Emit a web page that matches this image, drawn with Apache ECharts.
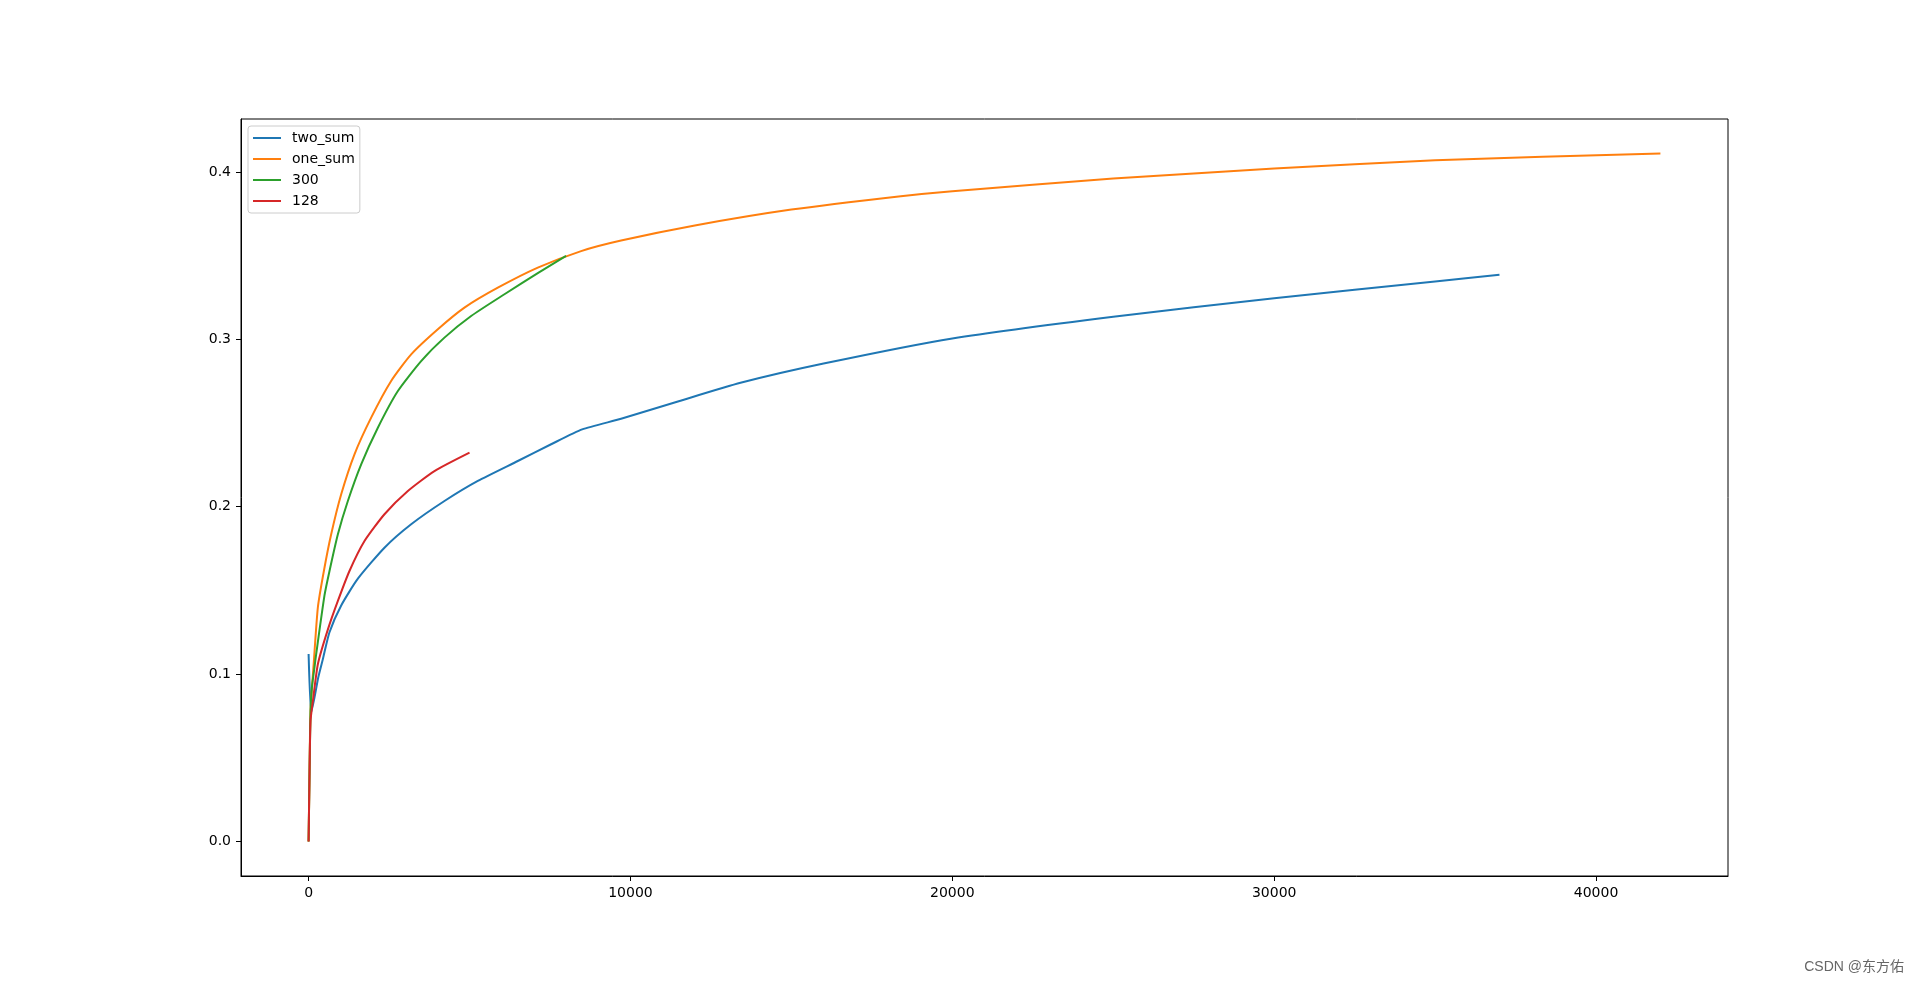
<!DOCTYPE html>
<html>
<head>
<meta charset="utf-8">
<script src="https://cdn.jsdelivr.net/npm/echarts@6/dist/echarts.min.js"></script>
<style>
html,body{margin:0;padding:0;background:#fff;}
#chart{width:1920px;height:983px;}
</style>
</head>
<body>
<div id="chart"></div>
<script>
// ---- data ----
const seriesNames = ['two_sum', 'one_sum', '300', '128'];

const twoSumX = [0, 80, 183, 300, 444, 649, 1013, 1531, 2357, 3187, 4221, 5258, 6500, 7535, 8500, 9709, 11500, 13420, 16000, 20000, 25000, 30000, 35000, 37000];
const twoSumY = [0.112, 0.077, 0.086, 0.098, 0.109, 0.125, 0.141, 0.157, 0.1755, 0.1895, 0.2034, 0.2154, 0.2273, 0.2373, 0.2462, 0.2525, 0.263, 0.274, 0.2855, 0.3005, 0.3135, 0.3245, 0.3345, 0.3385];

const oneSumX = [0, 25, 60, 165, 289, 475, 702, 1013, 1426, 1944, 2565, 3187, 4016, 4842, 5879, 7121, 8467, 9709, 12000, 15000, 18400, 20000, 25000, 30000, 35000, 42000];
const oneSumY = [0, 0.035, 0.078, 0.108, 0.140, 0.1616, 0.1835, 0.2074, 0.2313, 0.2532, 0.2751, 0.2910, 0.3060, 0.3189, 0.3308, 0.3428, 0.3527, 0.359, 0.368, 0.3775, 0.3855, 0.3885, 0.396, 0.402, 0.407, 0.411];

const s300X = [0, 25, 60, 102, 183, 236, 494, 650, 910, 1220, 1634, 2152, 2774, 3497, 4221, 5050, 6085, 7121, 8000];
const s300Y = [0, 0.035, 0.078, 0.092, 0.104, 0.112, 0.147, 0.1616, 0.1835, 0.2034, 0.2253, 0.2472, 0.2691, 0.2870, 0.3010, 0.3139, 0.3269, 0.3395, 0.3498];

const s128X = [0, 25, 60, 134, 289, 600, 910, 1270, 1737, 2357, 3084, 3910, 5000];
const s128Y = [0, 0.035, 0.072, 0.084, 0.106, 0.1267, 0.1437, 0.1616, 0.1795, 0.1955, 0.2094, 0.2213, 0.2323];

const xTicks = [0, 10000, 20000, 30000, 40000];
const yTicks = [0, 0.1, 0.2, 0.3, 0.4];

const colors = ['#1f77b4', '#ff7f0e', '#2ca02c', '#d62728'];

function zip(xs, ys) { return xs.map((x, i) => [x, ys[i]]); }
const allData = [zip(twoSumX, twoSumY), zip(oneSumX, oneSumY), zip(s300X, s300Y), zip(s128X, s128Y)];

const chart = echarts.init(document.getElementById('chart'), null, {renderer: 'canvas'});
const fontFam = '"DejaVu Sans", sans-serif';

chart.setOption({
  animation: false,
  backgroundColor: '#ffffff',
  color: colors,
  grid: {
    left: 241, right: 192, top: 119, bottom: 107,
    show: true, borderColor: '#000', borderWidth: 1, backgroundColor: 'transparent'
  },
  legend: {
    orient: 'vertical',
    left: 248, top: 126,
    padding: [5, 5, 5, 5],
    itemGap: 7,
    itemWidth: 28, itemHeight: 2,
    icon: 'rect',
    borderColor: '#cccccc', borderWidth: 1, borderRadius: 3,
    backgroundColor: 'rgba(255,255,255,0.8)',
    textStyle: {fontFamily: fontFam, fontSize: 14, color: '#000', padding: [0, 0, 0, 6]},
    data: seriesNames
  },
  xAxis: {
    type: 'value',
    min: -2100, max: 44100,
    splitLine: {show: false},
    axisLine: {show: true, onZero: false, lineStyle: {color: '#000', width: 1}},
    axisTick: {show: true, length: 5, lineStyle: {color: '#000'}, customValues: xTicks},
    axisLabel: {fontFamily: fontFam, fontSize: 14, color: '#000', margin: 10, customValues: xTicks,
      formatter: v => String(v)}
  },
  yAxis: {
    type: 'value',
    min: -0.0206, max: 0.4316,
    splitLine: {show: false},
    axisLine: {show: true, onZero: false, lineStyle: {color: '#000', width: 1}},
    axisTick: {show: true, length: 5, lineStyle: {color: '#000'}, customValues: yTicks},
    axisLabel: {fontFamily: fontFam, fontSize: 14, color: '#000', margin: 10, customValues: yTicks,
      formatter: v => v.toFixed(1)}
  },
  series: seriesNames.map((name, i) => ({
    name: name,
    type: 'line',
    data: allData[i],
    symbol: 'none',
    showSymbol: false,
    smooth: 0.2,
    lineStyle: {width: 2, color: colors[i], join: 'round', cap: 'butt'},
    itemStyle: {color: colors[i]}
  })),
  graphic: [{
    type: 'text',
    right: 16, bottom: 9,
    style: {
      text: 'CSDN @东方佑',
      fontFamily: '"Liberation Sans", "Noto Sans CJK SC", sans-serif',
      fontSize: 14,
      fill: '#666'
    }
  }]
});
</script>
</body>
</html>
